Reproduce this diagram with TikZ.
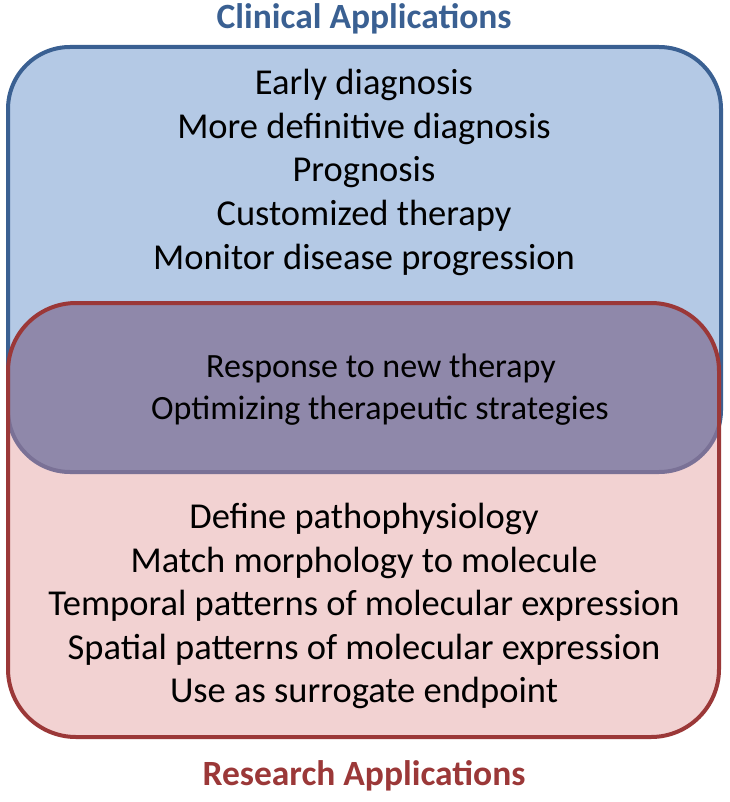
\documentclass[tikz,border=0pt]{standalone}
\usepackage{fontspec}
\setmainfont{Carlito}
\definecolor{bfill}{RGB}{180,201,229}
\definecolor{bline}{RGB}{58,96,146}
\definecolor{rfill}{RGB}{242,210,210}
\definecolor{rline}{RGB}{155,56,56}
\definecolor{pfill}{RGB}{143,136,170}
\definecolor{pline}{RGB}{122,113,150}
\begin{document}
\begin{tikzpicture}[x=1pt,y=-1pt,
  body/.style={font=\fontsize{36.5}{40}\selectfont, align=center, text=black, inner sep=0pt},
  mid/.style={font=\fontsize{34}{40}\selectfont, align=center, text=black, inner sep=0pt},
  ttl/.style={font=\fontsize{35.5}{40}\selectfont\bfseries, inner sep=0pt}]
\useasboundingbox (0,0) rectangle (729,802);
\def\bluebox{(8,47) rectangle (721,472)}
\def\redbox{(8,303) rectangle (719,737)}
\path[fill=bfill, draw=bline, line width=4pt, rounded corners=62pt] \bluebox;
\path[fill=rfill, rounded corners=68pt] \redbox;
\begin{scope}
  \clip[rounded corners=68pt] \redbox;
  \path[fill=pfill, draw=pline, line width=4pt, rounded corners=62pt] \bluebox;
\end{scope}
\path[draw=rline, line width=4pt, rounded corners=68pt] \redbox;
\node[ttl, text=bline] (ct) at (364,19) {Clinical Applications};
\node[ttl, text=rline] (rt) at (364,776) {Research Applications};
\node[body] (c1) at (364,85) {Early diagnosis};
\node[body] (c2) at (364,129) {More definitive diagnosis};
\node[body] (c3) at (364,172) {Prognosis};
\node[body] (c4) at (364,216) {Customized therapy};
\node[body] (c5) at (364,260) {Monitor disease progression};
\node[mid] (o1) at (381,368) {Response to new therapy};
\node[mid] (o2) at (380,411) {Optimizing therapeutic strategies};
\node[body] (r1) at (364,519) {Define pathophysiology};
\node[body] (r2) at (364,563) {Match morphology to molecule};
\node[body] (r3) at (364,606) {Temporal patterns of molecular expression};
\node[body] (r4) at (364,650) {Spatial patterns of molecular expression};
\node[body] (r5) at (364,693) {Use as surrogate endpoint};
\end{tikzpicture}
\end{document}
